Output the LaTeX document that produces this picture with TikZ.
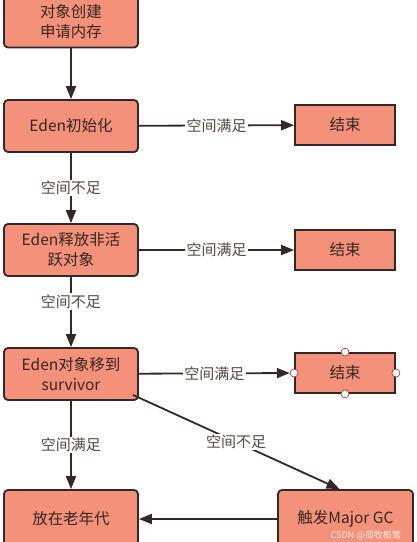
\documentclass[tikz,border=0pt]{standalone}
\usepackage{fontspec}
\setmainfont{Noto Sans CJK SC}
\usetikzlibrary{arrows.meta}
\definecolor{boxfill}{RGB}{244,145,122}
\definecolor{boxline}{RGB}{51,40,38}
\definecolor{txt}{RGB}{55,38,34}
\definecolor{handle}{RGB}{150,40,40}
\tikzset{
  stepbox/.style={draw=boxline, line width=1.8pt, fill=boxfill, rounded corners=4pt,
    minimum width=134pt, minimum height=52pt, align=center, text=txt,
    font=\fontsize{15.5}{20}\selectfont, inner sep=0pt},
  endbox/.style={draw=boxline, line width=1.8pt, fill=boxfill,
    minimum width=100pt, minimum height=40pt, text=txt,
    font=\fontsize{15.5}{20}\selectfont, inner sep=0pt},
  conn/.style={draw=boxline, line width=1.8pt, -{Triangle[length=13pt,width=10pt]}},
  lbl/.style={fill=white, text=txt!85!white, font=\fontsize{15}{18}\selectfont, inner sep=1.5pt},
  handlec/.style={circle, draw=handle, fill=white, line width=0.6pt, minimum size=8pt, inner sep=0pt}
}
\begin{document}
\begin{tikzpicture}[x=1pt,y=1pt]
\useasboundingbox[fill=white] (0,0) rectangle (416,-542);
\node[stepbox, minimum height=51pt] (b1) at (71,-22) {对象创建\\申请内存};
\node[stepbox] (b2) at (71,-126) {Eden初始化};
\node[endbox] (e1) at (345,-125) {结束};
\node[stepbox] (b3) at (71,-250) {Eden释放非活\\跃对象};
\node[endbox] (e2) at (345,-250) {结束};
\node[stepbox] (b4) at (71,-374) {Eden对象移到\\survivor};
\node[endbox] (e3) at (345,-373) {结束};
\node[stepbox, minimum height=58pt] (b5) at (71,-519) {放在老年代};
\node[stepbox, minimum width=135pt, minimum height=58pt] (b6) at (345.5,-519) {触发Major GC};
\foreach \a in {north,south,east,west} \node[handlec] (h\a) at (e3.\a) {};
\node[text=white!85!boxfill, font=\fontsize{9}{10}\selectfont, anchor=south east, inner sep=1pt] (wm) at (402,-541) {CSDN @孤牧栀莺};
\draw[conn] (b1) -- (b2);
\draw[conn] (b2) -- node[lbl]{空间满足} (e1);
\draw[conn] (b2) -- node[lbl]{空间不足} (b3);
\draw[conn] (b3) -- node[lbl]{空间满足} (e2);
\draw[conn] (b3) -- node[lbl, pos=0.35]{空间不足} (b4);
\draw[conn] (b4) -- node[lbl]{空间满足} (hwest);
\draw[conn] (b4) -- node[lbl]{空间满足} (b5);
\coordinate (d1) at ([xshift=-6pt,yshift=6pt]b4.south east);
\coordinate (d2) at ([xshift=-6pt]b6.north);
\draw[conn] (d1) -- node[lbl, pos=0.5]{空间不足} (d2);
\draw[conn] (b6) -- (b5);
\end{tikzpicture}
\end{document}
